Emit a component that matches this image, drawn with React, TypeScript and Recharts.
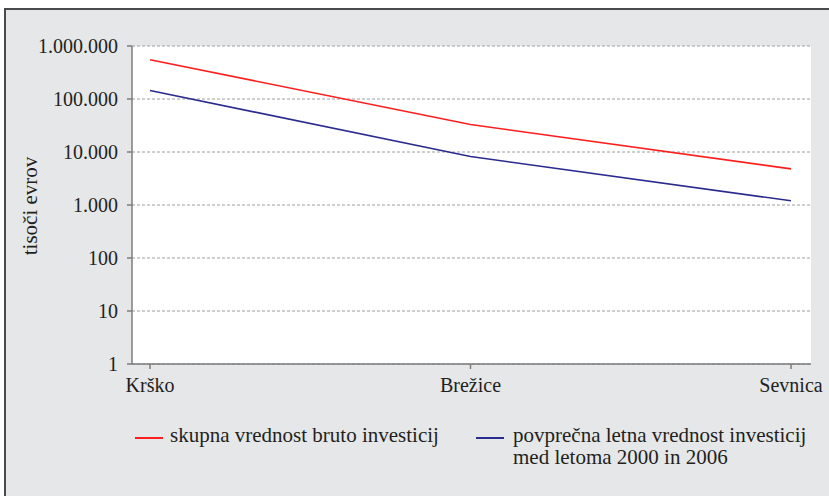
import React from 'react';
import { LineChart, Line, XAxis, YAxis, CartesianGrid } from 'recharts';

const municipalities = ['Krško', 'Brežice', 'Sevnica'];
const totalInvestment = [550000, 33000, 4800]; // skupna vrednost bruto investicij
const avgAnnualInvestment = [145000, 8200, 1200]; // povprečna letna vrednost investicij
const yTicks = [1, 10, 100, 1000, 10000, 100000, 1000000];

const series = [
  { key: 'total', name: 'skupna vrednost bruto investicij', color: '#ff1e1e' },
  { key: 'avg', name: 'povprečna letna vrednost investicij\nmed letoma 2000 in 2006', color: '#2b2b8f' },
];

const data = municipalities.map((m, i) => ({
  name: m,
  total: totalInvestment[i],
  avg: avgAnnualInvestment[i],
}));

const FONT = '"Liberation Serif", "DejaVu Serif", serif';
const AXIS = '#7d7d7d';

// thousands separator is a dot
const fmt = (v: number) => v.toLocaleString('de-DE');

const YLabel = (props: any) => {
  const { viewBox } = props;
  const cx = viewBox.x + 30;
  const cy = viewBox.y + viewBox.height / 2 + 1;
  return (
    <text
      x={cx}
      y={cy}
      transform={`rotate(-90 ${cx} ${cy})`}
      textAnchor="middle"
      dominantBaseline="central"
      fontFamily={FONT}
      fontSize={21}
      fill="#231f20"
    >
      tisoči evrov
    </text>
  );
};

export default function App() {
  return (
    <div style={{ position: 'absolute', left: 0, top: 0, width: 829, height: 496, overflow: 'hidden' }}>
      <div
        style={{
          position: 'absolute',
          left: 4,
          top: 8,
          right: 0,
          bottom: 0,
          background: '#e6e7e9',
          borderLeft: '2px solid #4a4a4a',
          borderTop: '2px solid #4a4a4a',
        }}
      />
      <div style={{ position: 'absolute', left: 0, top: 0 }}>
        <LineChart width={829} height={496} data={data} margin={{ top: 46, right: 18, left: 0, bottom: 0 }}>
          <CartesianGrid
            vertical={false}
            stroke="#9e9e9e"
            strokeDasharray="3 2"
            fill="#ffffff"
            fillOpacity={1}
          />
          <XAxis
            dataKey="name"
            height={132}
            padding={{ left: 18, right: 20 }}
            tickSize={5}
            tickMargin={9}
            stroke={AXIS}
            strokeWidth={1.5}
            tick={{ fill: '#231f20', fontFamily: FONT, fontSize: 20 }}
          />
          <XAxis xAxisId="top" orientation="top" dataKey="name" height={0} tick={false} tickLine={false} stroke={AXIS} strokeWidth={1.5} />
          <YAxis
            scale="log"
            domain={[1, 1000000]}
            ticks={yTicks}
            allowDataOverflow
            width={132}
            tickSize={5}
            tickMargin={9}
            tickFormatter={fmt}
            stroke={AXIS}
            strokeWidth={1.5}
            tick={{ fill: '#231f20', fontFamily: FONT, fontSize: 20 }}
            label={<YLabel />}
          />
          <YAxis yAxisId="right" orientation="right" width={0} tick={false} tickLine={false} stroke={AXIS} strokeWidth={1.5} />
          {series.map((s) => (
            <Line
              key={s.key}
              type="linear"
              dataKey={s.key}
              name={s.name}
              stroke={s.color}
              strokeWidth={1.6}
              dot={false}
              activeDot={false}
              isAnimationActive={false}
            />
          ))}
        </LineChart>
      </div>
      {/* legend */}
      {series.map((s, i) => {
        const lineLeft = i === 0 ? 135 : 476;
        const textLeft = i === 0 ? 170 : 513;
        return (
          <React.Fragment key={s.key}>
            <div style={{ position: 'absolute', left: lineLeft, top: 436.5, width: 28, height: 2, background: s.color }} />
            <div
              style={{
                position: 'absolute',
                left: textLeft,
                top: 424,
                fontFamily: FONT,
                fontSize: 21,
                lineHeight: '22px',
                color: '#231f20',
                whiteSpace: 'pre-line',
              }}
            >
              {s.name}
            </div>
          </React.Fragment>
        );
      })}
    </div>
  );
}
